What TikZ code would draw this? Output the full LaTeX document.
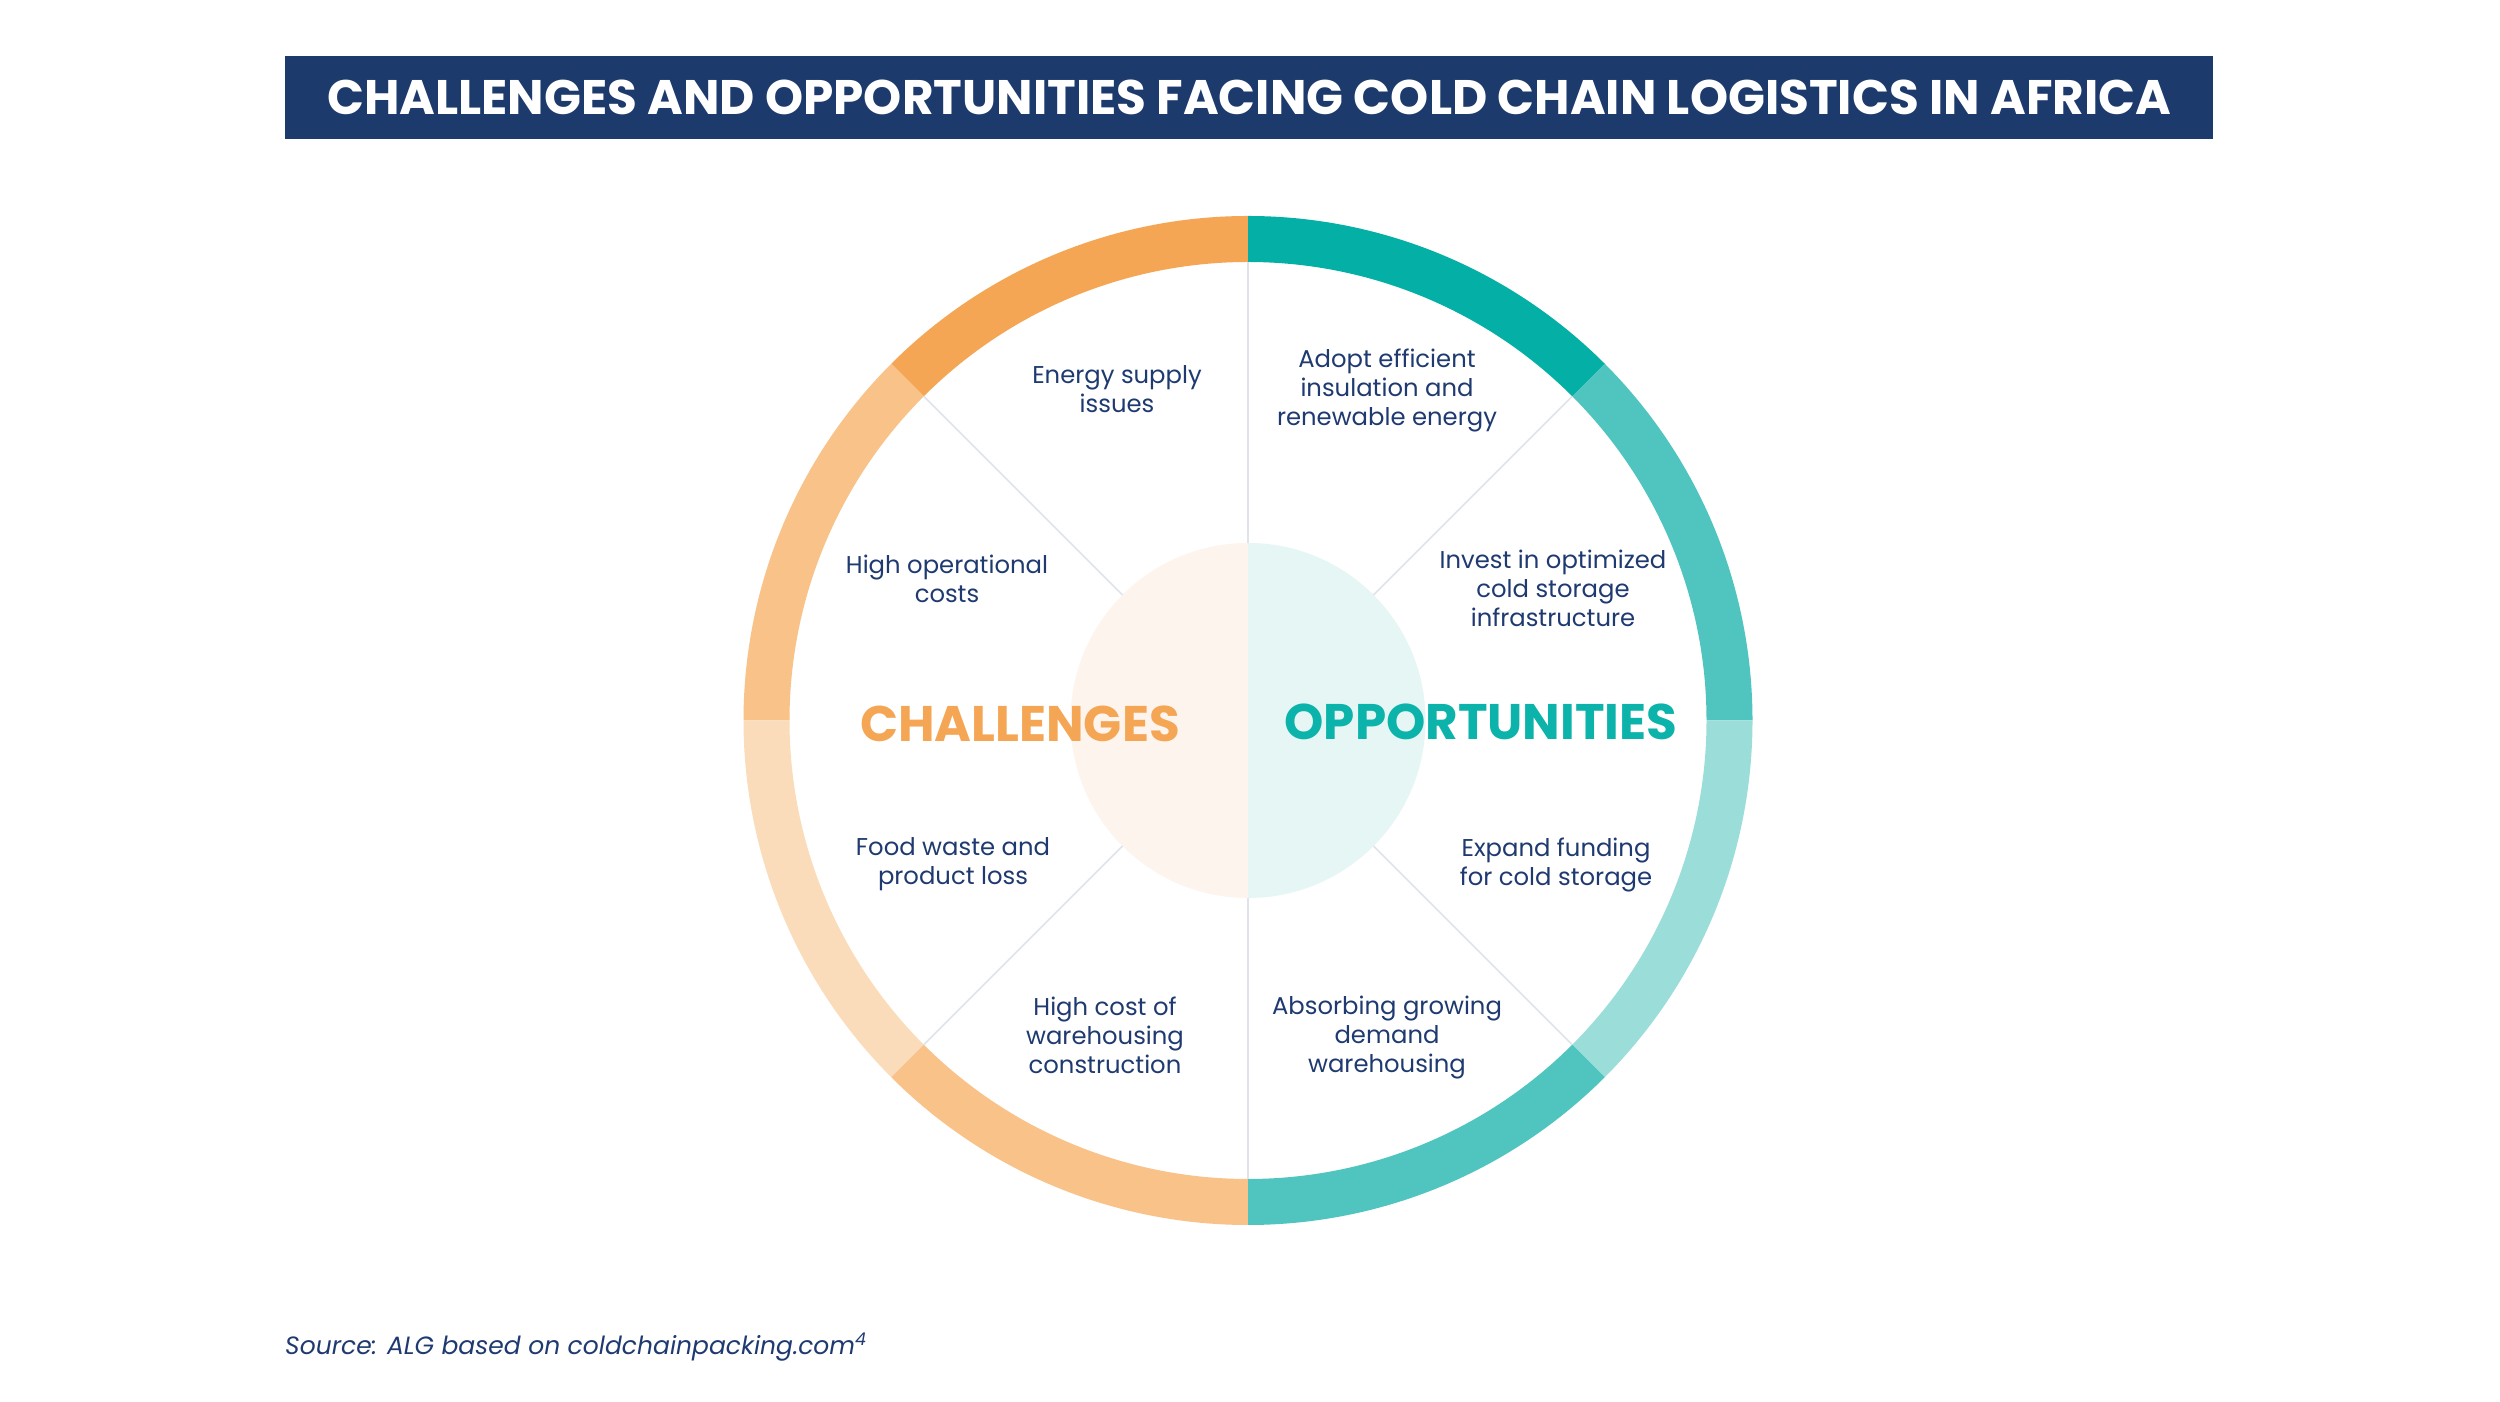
\documentclass[tikz,border=0pt]{standalone}
\usepackage{fontspec}
\setmainfont{Poppins}
\definecolor{navy}{HTML}{1D3A6D}
\definecolor{txt}{HTML}{1F3A70}
\definecolor{orA}{HTML}{F4A654}
\definecolor{orB}{HTML}{F8C289}
\definecolor{orC}{HTML}{FADCBA}
\definecolor{tlA}{HTML}{04AFA6}
\definecolor{tlB}{HTML}{50C5C0}
\definecolor{tlC}{HTML}{9BDED9}
\definecolor{cL}{HTML}{FDF4EE}
\definecolor{cR}{HTML}{E5F6F4}
\definecolor{divc}{HTML}{E0E3EB}
\definecolor{tlT}{HTML}{0BB3AA}
\begin{document}
\begin{tikzpicture}[x=1pt,y=1pt,
  item/.style={text=txt,align=center,inner sep=0pt,font=\fontsize{24.3}{29}\selectfont},
  big/.style={inner sep=0pt,font=\fontsize{50}{54}\selectfont\bfseries},
  divline/.style={draw=divc,line width=1.5pt}]
\fill[white] (0,0) rectangle (2500,1402);
\useasboundingbox (0,0) rectangle (2500,1402);
% title
\node[fill=navy,minimum width=1928pt,minimum height=83pt,inner sep=0pt,anchor=north west,
  text=white,font=\fontsize{48.5}{52}\selectfont\bfseries] (title) at (285,1346) {CHALLENGES AND OPPORTUNITIES FACING COLD CHAIN LOGISTICS IN AFRICA};
% centre
\coordinate (C) at (1248,681.5);
\def\Ro{504.5}\def\Ri{458.5}\def\Rc{177.5}
\newcommand{\seg}[3]{\fill[#1,shift={(C)}] (#2:\Ro) arc[start angle=#2,end angle=#3,radius=\Ro] -- (#3:\Ri) arc[start angle=#3,end angle=#2,radius=\Ri] -- cycle;}
\seg{orA}{90}{135}
\seg{orB}{135}{180}
\seg{orC}{180}{225}
\seg{orB}{225}{270}
\seg{tlA}{45}{90}
\seg{tlB}{0}{45}
\seg{tlC}{-45}{0}
\seg{tlB}{-90}{-45}
% centre circle halves
\fill[cL,shift={(C)}] (90:\Rc) arc[start angle=90,end angle=270,radius=\Rc] -- cycle;
\fill[cR,shift={(C)}] (-90:\Rc) arc[start angle=-90,end angle=90,radius=\Rc] -- cycle;
% dividers
\foreach \a in {45,90,135,225,270,315}{
  \draw[divline,shift={(C)}] (\a:\Rc) -- (\a:\Ri);
}
% labels
\node[big,text=orA] (ch) at (1020,678.5) {CHALLENGES};
\node[big,text=tlT] (op) at (1481,680.5) {OPPORTUNITIES};
\node[item] (t1) at (1117,1013) {Energy supply\\issues};
\node[item] (t2) at (947,823.5) {High operational\\costs};
\node[item] (t3) at (953,537.5) {Food waste and\\product loss};
\node[item] (t4) at (1105,367) {High cost of\\warehousing\\construction};
\node[item] (t5) at (1387,1011) {Adopt efficient\\insulation and\\renewable energy};
\node[item] (t6) at (1553,814) {Invest in optimized\\cold storage\\infrastructure};
\node[item] (t7) at (1556,537) {Expand funding\\for cold storage};
\node[item] (t8) at (1387,364) {Absorbing growing\\demand\\warehousing};
\node[text=txt,anchor=west,inner sep=0pt,font=\fontsize{25}{29}\selectfont\itshape] (src) at (285,55) {Source: ALG based on coldchainpacking.com\textsuperscript{4}};
\end{tikzpicture}
\end{document}
